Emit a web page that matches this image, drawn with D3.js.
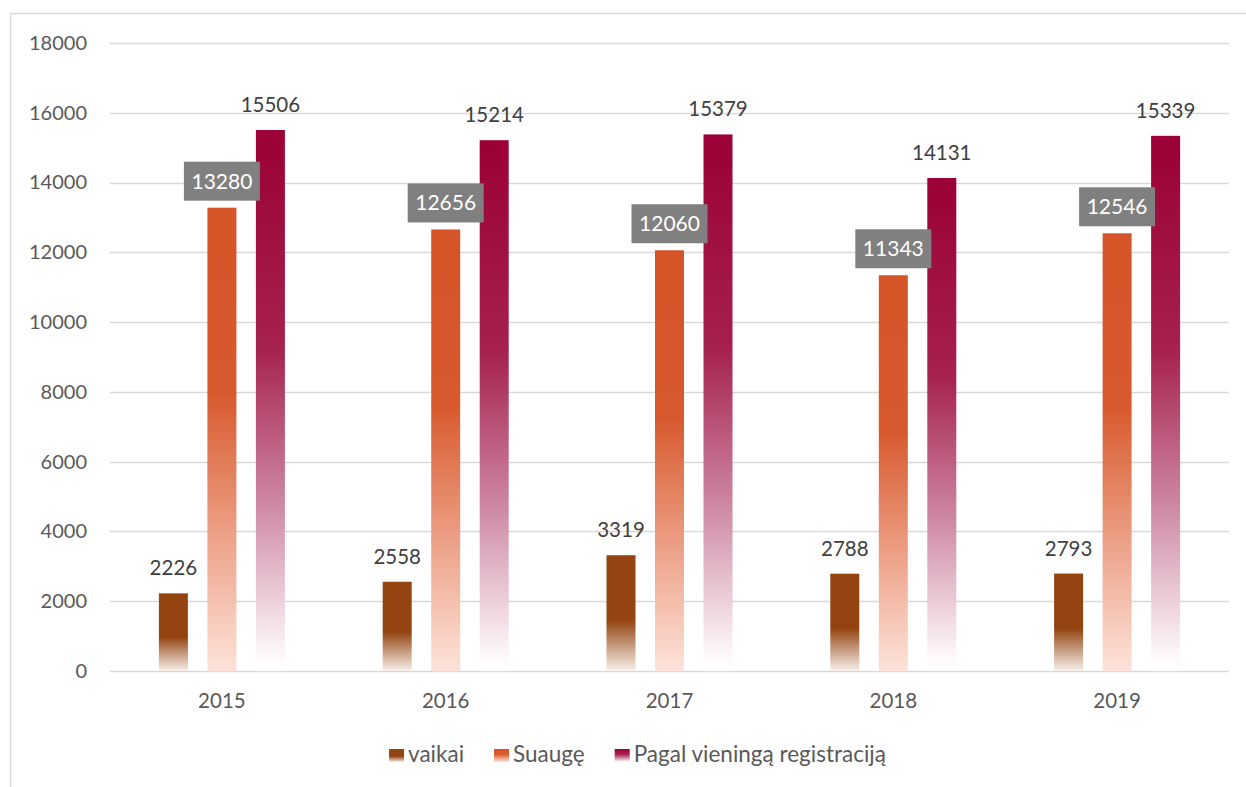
<!DOCTYPE html>
<html><head><meta charset="utf-8">
<script src="https://cdn.jsdelivr.net/npm/d3@7"></script>
<style>
html,body{margin:0;padding:0;background:#fff;}
svg{display:block;font-family:Lato, "Open Sans", sans-serif;}
</style></head>
<body>
<svg id="chart" width="1246" height="787"></svg>
<script>
const years = ["2015","2016","2017","2018","2019"];
const seriesNames = ["vaikai","Suaugę","Pagal vieningą registraciją"];
const vaikai = [2226, 2558, 3319, 2788, 2793];
const suauge = [13280, 12656, 12060, 11343, 12546];
const pagal = [15506, 15214, 15379, 14131, 15339];
const yTicks = [0,2000,4000,6000,8000,10000,12000,14000,16000,18000];

const svg = d3.select("#chart");
const m = {left:110, right:1229, top:43, bottom:671};

// outer border
svg.append("rect").attr("x",10.5).attr("y",13.5).attr("width",1300).attr("height",900)
  .attr("fill","none").attr("stroke","#d9d9d9").attr("stroke-width",1.5);

const defs = svg.append("defs");
function grad(id, stops){
  const g = defs.append("linearGradient").attr("id",id).attr("x1",0).attr("y1",0).attr("x2",0).attr("y2",1);
  stops.forEach(s=>g.append("stop").attr("offset",s[0]).attr("stop-color",s[1]));
}
grad("g0",[[0,"#934410"],[0.56,"#934410"],[1,"#f7f0ea"]]);
grad("g1",[[0,"#d55428"],[0.4,"#d75a2e"],[0.7,"#ec9f85"],[1,"#fde3da"]]);
grad("g2",[[0,"#9b0036"],[0.4,"#a5214f"],[0.7,"#cf8ba6"],[0.97,"#fdf8fa"],[1,"#ffffff"]]);
const fills = ["url(#g0)","url(#g1)","url(#g2)"];

const x = d3.scaleBand().domain(years).range([m.left, m.right]);
const y = d3.scaleLinear().domain([0,18000]).range([m.bottom, m.top]);

// grid
const grid = svg.append("g");
grid.selectAll("line").data(yTicks).join("line")
  .attr("x1",m.left).attr("x2",m.right)
  .attr("y1",d=>Math.round(y(d))+0.5).attr("y2",d=>Math.round(y(d))+0.5)
  .attr("stroke","#d9d9d9").attr("stroke-width",1.5);

// y axis labels
const yAxis = d3.axisLeft(y).tickValues(yTicks).tickSize(0).tickPadding(0).tickFormat(d3.format("d"));
const ya = svg.append("g").attr("transform","translate(87,0)").call(yAxis);
ya.select(".domain").remove();
ya.selectAll("text").attr("fill","#595959").style("font-size","20px").style("font-family","Lato");

// x axis labels
const xAxis = d3.axisBottom(x).tickSize(0).tickPadding(0);
const xa = svg.append("g").attr("transform",`translate(0,${m.bottom+22})`).call(xAxis);
xa.select(".domain").remove();
xa.selectAll("text").attr("fill","#595959").style("font-size","20.5px").style("font-family","Lato");

const data = [vaikai, suauge, pagal];
const bw = 29, step = 48.5;
data.forEach((vals, si)=>{
  const g = svg.append("g");
  g.selectAll("rect").data(vals).join("rect")
    .attr("x",(d,i)=>x(years[i]) + x.bandwidth()/2 + (si-1)*step - bw/2)
    .attr("width",bw)
    .attr("y",d=>y(d))
    .attr("height",d=>y(0)-y(d))
    .attr("fill",fills[si]);
});

// labels vaikai & pagal (plain)
[0,2].forEach(si=>{
  svg.append("g").selectAll("text").data(data[si]).join("text")
    .attr("x",(d,i)=>x(years[i]) + x.bandwidth()/2 + (si-1)*step)
    .attr("y",d=>y(d)-18)
    .attr("text-anchor","middle")
    .attr("fill","#404040")
    .style("font-size","20.5px")
    .text(d=>d);
});
// suauge labels in grey boxes
const lg = svg.append("g").selectAll("g").data(suauge).join("g")
  .attr("transform",(d,i)=>`translate(${x(years[i]) + x.bandwidth()/2},${y(d)-7})`);
lg.append("rect").attr("x",-38).attr("y",-39).attr("width",76).attr("height",39).attr("fill","#808080");
lg.append("text").attr("x",0).attr("y",-12).attr("text-anchor","middle").attr("fill","#ffffff")
  .style("font-size","21px").text(d=>d);

// legend
const leg = svg.append("g");
const items = leg.selectAll("g").data(seriesNames).join("g");
items.append("rect").attr("width",15).attr("height",13).attr("y",-13).attr("fill",(d,i)=>fills[i]);
items.append("text").attr("x",19).attr("y",0).attr("fill","#595959").style("font-size","22.5px").text(d=>d);
let pos = 0; const gap = 30; const xs = [];
items.each(function(){ xs.push(pos); pos += 19 + this.querySelector("text").getComputedTextLength() + gap; });
const total = pos - gap;
const startX = 637.5 - total/2;
items.attr("transform",(d,i)=>`translate(${startX+xs[i]},762)`);
</script>
</body></html>
